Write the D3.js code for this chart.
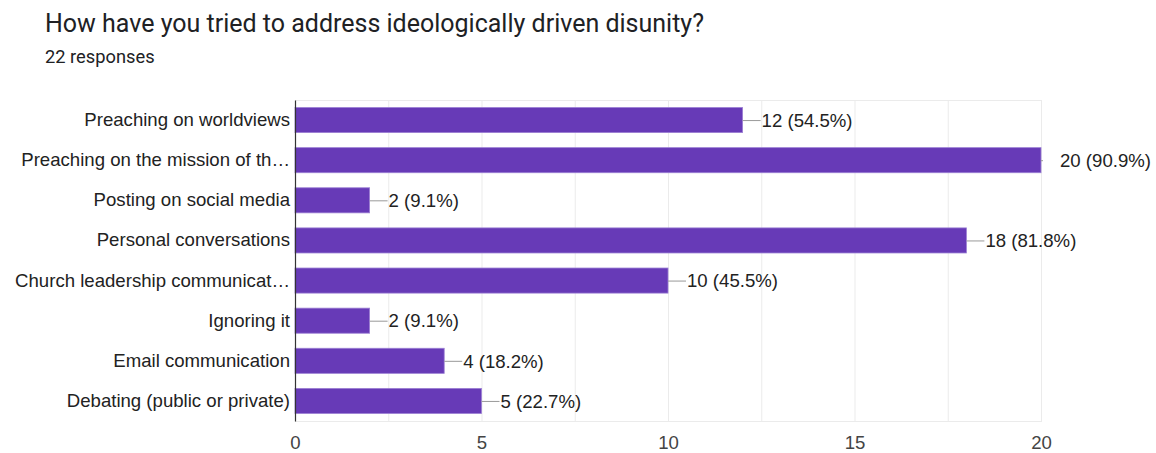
<!DOCTYPE html>
<html>
<head>
<meta charset="utf-8">
<script src="https://cdn.jsdelivr.net/npm/d3@7"></script>
<style>
  html, body { margin: 0; padding: 0; background: #fff; }
  svg { display: block; }
</style>
</head>
<body>
<svg id="chart" width="1156" height="453"></svg>
<script>
// Survey question and response count
const title = "How have you tried to address ideologically driven disunity?";
const subtitle = "22 responses";

// Answer options (as shown, including truncated labels)
const categories = [
  "Preaching on worldviews",
  "Preaching on the mission of th\u2026",
  "Posting on social media",
  "Personal conversations",
  "Church leadership communicat\u2026",
  "Ignoring it",
  "Email communication",
  "Debating (public or private)"
];

// Number of respondents choosing each option
const counts = [12, 20, 2, 18, 10, 2, 4, 5];

// Share of respondents for each option
const percents = ["54.5%", "90.9%", "9.1%", "81.8%", "45.5%", "9.1%", "18.2%", "22.7%"];

// Axis ticks and gridline positions
const tickValues = [0, 5, 10, 15, 20];
const gridValues = [2.5, 5, 7.5, 10, 12.5, 15, 17.5, 20];

const svg = d3.select("#chart");
const plotLeft = 295, plotRight = 1041, plotTop = 100, plotBottom = 421;
const labelFont = "Liberation Sans, Arial, sans-serif";
const labelSize = 18.6;

const x = d3.scaleLinear().domain([0, 20]).range([plotLeft, plotRight]);
const y = d3.scaleBand().domain(categories).range([plotTop, plotBottom]).paddingInner(0.375).paddingOuter(0.1875);

// Clip region for the plot area (leader lines stop at its edge)
svg.append("defs").append("clipPath").attr("id", "plot-clip")
  .append("rect")
  .attr("x", plotLeft).attr("y", plotTop)
  .attr("width", plotRight - plotLeft + 2).attr("height", plotBottom - plotTop);

// Header
svg.append("text")
  .attr("x", 45).attr("y", 32)
  .attr("font-family", "Roboto, sans-serif")
  .attr("font-size", 25)
  .attr("fill", "#202124")
  .text(title);

svg.append("text")
  .attr("x", 45).attr("y", 63)
  .attr("font-family", "Roboto, sans-serif")
  .attr("font-size", 18.3)
  .attr("fill", "#202124")
  .text(subtitle);

// Vertical gridlines
svg.append("g").selectAll("line")
  .data(gridValues)
  .join("line")
  .attr("x1", d => x(d) + 0.5).attr("x2", d => x(d) + 0.5)
  .attr("y1", plotTop).attr("y2", plotBottom)
  .attr("stroke", "#ebebeb").attr("stroke-width", 1);

// Top and bottom frame lines
svg.append("line")
  .attr("x1", plotLeft).attr("x2", plotRight + 1)
  .attr("y1", plotTop + 0.5).attr("y2", plotTop + 0.5)
  .attr("stroke", "#ebebeb");
svg.append("line")
  .attr("x1", plotLeft).attr("x2", plotRight + 1)
  .attr("y1", plotBottom + 0.5).attr("y2", plotBottom + 0.5)
  .attr("stroke", "#ebebeb");

// Bars
svg.append("g").selectAll("rect")
  .data(counts)
  .join("rect")
  .attr("x", x(0))
  .attr("y", (d, i) => y(categories[i]))
  .attr("width", d => x(d) - x(0))
  .attr("height", y.bandwidth())
  .attr("fill", "#673ab7")
  .attr("stroke", "#9b7fd4")
  .attr("stroke-width", 0.8);

// Leader lines to value labels
svg.append("g")
  .attr("clip-path", "url(#plot-clip)")
  .selectAll("line")
  .data(counts)
  .join("line")
  .attr("x1", d => x(d))
  .attr("x2", d => x(d) + 18)
  .attr("y1", (d, i) => y(categories[i]) + y.bandwidth() / 2 + 0.5)
  .attr("y2", (d, i) => y(categories[i]) + y.bandwidth() / 2 + 0.5)
  .attr("stroke", "#999").attr("stroke-width", 1);

// Value labels
svg.append("g").selectAll("text")
  .data(counts)
  .join("text")
  .attr("x", d => x(d) + 19)
  .attr("y", (d, i) => y(categories[i]) + y.bandwidth() / 2)
  .attr("dy", "0.36em")
  .attr("font-family", labelFont)
  .attr("font-size", labelSize)
  .attr("fill", "#222")
  .text((d, i) => `${d} (${percents[i]})`);

// Category axis
const yAxis = svg.append("g")
  .attr("transform", `translate(${plotLeft},0)`)
  .call(d3.axisLeft(y).tickSize(0).tickPadding(5));
yAxis.select(".domain").attr("stroke", "#333").attr("stroke-width", 1.2);
yAxis.selectAll("text")
  .attr("font-family", labelFont)
  .attr("font-size", labelSize)
  .attr("fill", "#222");

// Value axis
const xAxis = svg.append("g")
  .attr("transform", `translate(0,${plotBottom})`)
  .call(d3.axisBottom(x).tickValues(tickValues).tickSize(0).tickPadding(15));
xAxis.select(".domain").remove();
xAxis.selectAll("text")
  .attr("font-family", labelFont)
  .attr("font-size", labelSize)
  .attr("fill", "#444");
</script>
</body>
</html>
